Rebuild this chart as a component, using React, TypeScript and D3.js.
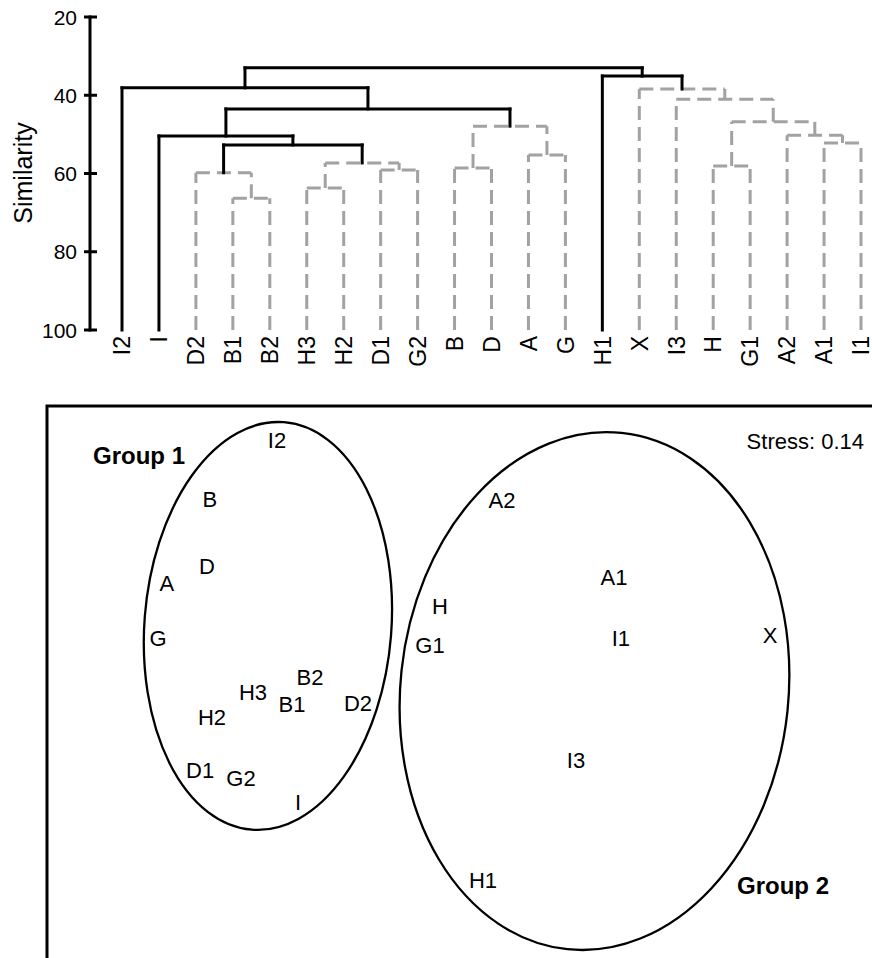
import React, { useRef, useEffect } from "react";
import * as d3 from "d3";

// dendrogram leaves, left to right
const leafOrder = ["I2", "I", "D2", "B1", "B2", "H3", "H2", "D1", "G2", "B", "D", "A", "G", "H1", "X", "I3", "H", "G1", "A2", "A1", "I1"];

// merge steps: merge i joins mergeLeft[i] and mergeRight[i] at mergeSimilarity[i] (id "m" + i)
const mergeLeft = ["B1", "D2", "H3", "D1", "m2", "m1", "I", "B", "A", "m7", "m6", "I2", "A1", "A2", "H", "m14", "I3", "X", "H1", "m11"];
const mergeRight = ["B2", "m0", "H2", "G2", "m3", "m4", "m5", "D", "G", "m8", "m9", "m10", "I1", "m12", "G1", "m13", "m15", "m16", "m17", "m18"];
const mergeSimilarity = [66.3, 59.8, 63.7, 59.1, 57.3, 52.7, 50.4, 58.6, 55.3, 47.9, 43.5, 38.1, 52.2, 50.2, 58.1, 46.8, 41.0, 38.4, 35.1, 33.0];
const significantMerges = ["m5", "m6", "m10", "m11", "m18", "m19"];
const simTicks = [20, 40, 60, 80, 100];

// MDS ordination
const mdsLabels = ["I2", "B", "D", "A", "G", "H3", "B2", "B1", "D2", "H2", "D1", "G2", "I", "A2", "A1", "H", "G1", "I1", "X", "I3", "H1"];
const mdsX = [-0.905, -1.224, -1.238, -1.429, -1.471, -1.019, -0.748, -0.833, -0.519, -1.214, -1.271, -1.076, -0.805, 0.167, 0.7, -0.129, -0.176, 0.733, 1.443, 0.519, 0.076];
const mdsY = [1.149, 0.869, 0.551, 0.47, 0.209, -0.047, 0.024, -0.104, -0.1, -0.166, -0.418, -0.456, -0.57, 0.864, 0.498, 0.361, 0.176, 0.209, 0.223, -0.37, -0.939];

const groupNames = ["Group 1", "Group 2"];
const ellipseCx = [-0.948, 0.607];
const ellipseCy = [0.266, -0.043];
const ellipseRx = [0.588, 0.924];
const ellipseRy = [0.97, 1.232];
const ellipseAngle = [4.5, 6];
const stress = 0.14;

const FONT = "'Liberation Sans', Arial, sans-serif";

const App = () => {
  const ref = useRef(null);

  useEffect(() => {
    const svg = d3.select(ref.current);
    svg.selectAll("*").remove();

    // ---------- dendrogram ----------
    const x = d3.scalePoint().domain(leafOrder).range([122, 861]);
    const y = d3.scaleLinear().domain([20, 100]).range([17, 330]);

    const nodes = {};
    leafOrder.forEach((name) => {
      nodes[name] = { id: name, sim: 100, x: x(name) };
    });
    mergeSimilarity.forEach((sim, i) => {
      const l = nodes[mergeLeft[i]];
      const r = nodes[mergeRight[i]];
      nodes["m" + i] = {
        id: "m" + i,
        sim,
        children: [l, r],
        x: (l.x + r.x) / 2,
        solid: significantMerges.includes("m" + i),
      };
    });

    const dg = svg.append("g");
    const segs = [];
    mergeSimilarity.forEach((sim, i) => {
      const n = nodes["m" + i];
      const [l, r] = n.children;
      segs.push({ x1: l.x, x2: r.x, y1: y(sim), y2: y(sim), solid: n.solid });
      n.children.forEach((c) => {
        segs.push({ x1: c.x, x2: c.x, y1: y(c.sim), y2: y(sim), solid: n.solid });
      });
    });

    dg.selectAll("line.seg")
      .data(segs.filter((d) => !d.solid))
      .enter()
      .append("line")
      .attr("x1", (d) => d.x1)
      .attr("x2", (d) => d.x2)
      .attr("y1", (d) => d.y1)
      .attr("y2", (d) => d.y2)
      .attr("stroke", "#a2a2a2")
      .attr("stroke-width", 3)
      .attr("stroke-dasharray", "14,7");

    dg.selectAll("line.solid")
      .data(segs.filter((d) => d.solid))
      .enter()
      .append("line")
      .attr("x1", (d) => d.x1)
      .attr("x2", (d) => d.x2)
      .attr("y1", (d) => d.y1)
      .attr("y2", (d) => d.y2)
      .attr("stroke", "#000")
      .attr("stroke-width", 3)
      .attr("stroke-linecap", "square");

    // axis
    dg.append("line")
      .attr("x1", 90)
      .attr("x2", 90)
      .attr("y1", y(20) - 1.5)
      .attr("y2", y(100) + 1.5)
      .attr("stroke", "#000")
      .attr("stroke-width", 3);

    simTicks.forEach((t) => {
      dg.append("line")
        .attr("x1", 84)
        .attr("x2", 97)
        .attr("y1", y(t))
        .attr("y2", y(t))
        .attr("stroke", "#000")
        .attr("stroke-width", 3);
      dg.append("text")
        .attr("x", 77)
        .attr("y", y(t))
        .attr("dy", "0.36em")
        .attr("text-anchor", "end")
        .style("font-family", FONT)
        .style("font-size", "21px")
        .text(t);
    });

    dg.append("text")
      .attr("transform", "translate(32,173) rotate(-90)")
      .attr("text-anchor", "middle")
      .style("font-family", FONT)
      .style("font-size", "25px")
      .text("Similarity");

    dg.selectAll("text.leaf")
      .data(leafOrder)
      .enter()
      .append("text")
      .attr("transform", (d) => `translate(${x(d)},336) rotate(-90)`)
      .attr("text-anchor", "end")
      .attr("dy", "0.36em")
      .style("font-family", FONT)
      .style("font-size", "23px")
      .text((d) => d);

    // ---------- MDS panel ----------
    const mx = d3.scaleLinear().domain([-2, 2]).range([47, 887]);
    const my = d3.scaleLinear().domain([-1.31, 1.31]).range([958, 406]);

    const mg = svg.append("g");
    mg.append("rect")
      .attr("x", mx(-2))
      .attr("y", my(1.31))
      .attr("width", 900)
      .attr("height", 600)
      .attr("fill", "none")
      .attr("stroke", "#000")
      .attr("stroke-width", 3);

    groupNames.forEach((g, i) => {
      mg.append("ellipse")
        .attr("transform", `translate(${mx(ellipseCx[i])},${my(ellipseCy[i])}) rotate(${ellipseAngle[i]})`)
        .attr("rx", mx(ellipseRx[i]) - mx(0))
        .attr("ry", my(0) - my(ellipseRy[i]))
        .attr("fill", "none")
        .attr("stroke", "#000")
        .attr("stroke-width", 2.3);
    });

    mg.selectAll("text.pt")
      .data(mdsLabels)
      .enter()
      .append("text")
      .attr("x", (d, i) => mx(mdsX[i]))
      .attr("y", (d, i) => my(mdsY[i]))
      .attr("dy", "0.36em")
      .attr("text-anchor", "middle")
      .style("font-family", FONT)
      .style("font-size", "22px")
      .text((d) => d);

    const groupLabelPos = [
      [139, 455],
      [783, 885],
    ];
    groupNames.forEach((g, i) => {
      mg.append("text")
        .attr("x", groupLabelPos[i][0])
        .attr("y", groupLabelPos[i][1])
        .attr("dy", "0.36em")
        .attr("text-anchor", "middle")
        .style("font-family", FONT)
        .style("font-size", "24px")
        .style("font-weight", "bold")
        .text(g);
    });

    mg.append("text")
      .attr("x", 864)
      .attr("y", 441)
      .attr("dy", "0.36em")
      .attr("text-anchor", "end")
      .style("font-family", FONT)
      .style("font-size", "22px")
      .text(`Stress: ${stress}`);
  }, []);

  return (
    <div style={{ position: "absolute", left: 0, top: 0, width: 872, height: 958, background: "#fff" }}>
      <svg ref={ref} width={872} height={958} style={{ display: "block" }} />
    </div>
  );
};

export default App;
